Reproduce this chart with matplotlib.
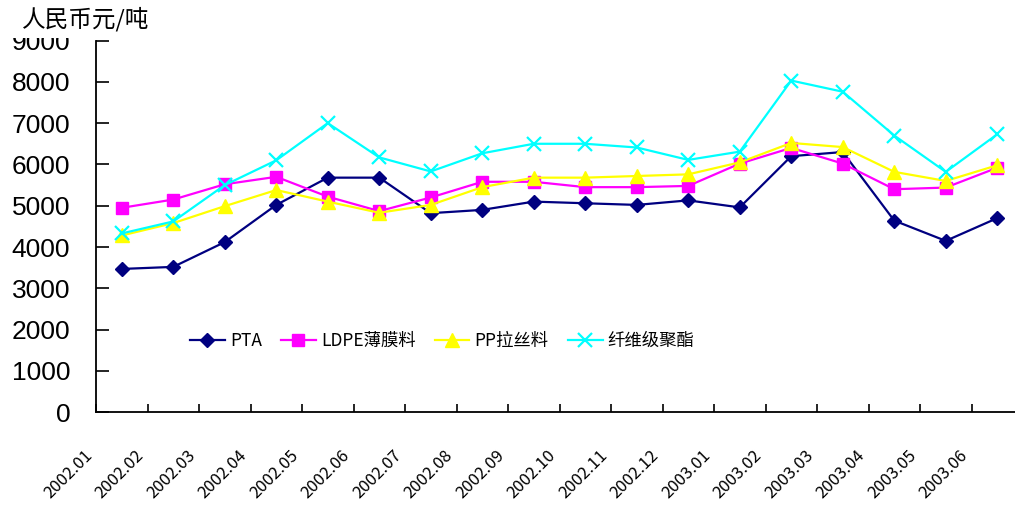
import matplotlib
matplotlib.use("Agg")
import matplotlib.pyplot as plt
from matplotlib import font_manager as fm
from matplotlib.transforms import blended_transform_factory
from matplotlib.patches import Rectangle

# ---------------- data ----------------
months = ["2002.01", "2002.02", "2002.03", "2002.04", "2002.05", "2002.06",
          "2002.07", "2002.08", "2002.09", "2002.10", "2002.11", "2002.12",
          "2003.01", "2003.02", "2003.03", "2003.04", "2003.05", "2003.06"]
pta = [3470, 3520, 4120, 5020, 5680, 5680, 4820, 4900, 5100, 5060, 5020, 5130,
       4960, 6200, 6300, 4640, 4150, 4700]
ldpe = [4950, 5150, 5520, 5700, 5220, 4870, 5200, 5580, 5580, 5450, 5450, 5480,
        6020, 6400, 6020, 5400, 5440, 5920]
pp = [4280, 4580, 4990, 5380, 5100, 4830, 5020, 5450, 5680, 5680, 5720, 5760,
      6050, 6520, 6420, 5820, 5600, 5980]
polyester = [4330, 4620, 5500, 6100, 7000, 6170, 5830, 6270, 6500, 6500, 6410, 6110,
             6310, 8030, 7760, 6700, 5820, 6730]
series_names = ["PTA", "LDPE薄膜料", "PP拉丝料", "纤维级聚酯"]
y_ticks = [0, 1000, 2000, 3000, 4000, 5000, 6000, 7000, 8000, 9000]
y_unit = "人民币元/吨"

# ---------------- fonts ----------------
cjk_fam = ["Noto Sans CJK SC", "DejaVu Sans"]
plt.rcParams["font.family"] = ["Liberation Sans", "Noto Sans CJK SC", "DejaVu Sans"]

W, H = 1015, 505
fig = plt.figure(figsize=(W / 100, H / 100), dpi=100)
x0, x1 = 96, 1023
y_bot, y_top = 412.3, 40.5
ax = fig.add_axes([x0 / W, (H - y_bot) / H, (x1 - x0) / W, (y_bot - y_top) / H])

n = len(months)
xs = [i + 0.5 for i in range(n)]
ax.plot(xs, pta, color="#000080", lw=1.6, marker="D", ms=6.8,
        mfc="#000080", mec="#000080", label=series_names[0])
ax.plot(xs, ldpe, color="#FF00FF", lw=1.6, marker="s", ms=9.2,
        mfc="#FF00FF", mec="#FF00FF", label=series_names[1])
ax.plot(xs, pp, color="#FFFF00", lw=1.6, marker="^", ms=10,
        mfc="#FFFF00", mec="#FFFF00", label=series_names[2])
ax.plot(xs, polyester, color="#00FFFF", lw=1.6, marker="x", ms=10.5, mew=1.6,
        label=series_names[3])

ax.set_xlim(0, n)
ax.set_ylim(0, 9000)
ax.set_yticks(y_ticks)
ax.set_yticklabels([str(v) for v in y_ticks], fontsize=19)
ax.set_xticks(range(n + 1))
ax.set_xticklabels([])
ax.tick_params(axis="y", direction="in", length=9, width=1.2, pad=18.5)
ax.tick_params(axis="x", direction="in", length=6, width=1.2)
for s in ("top", "right"):
    ax.spines[s].set_visible(False)
for s in ("left", "bottom"):
    ax.spines[s].set_linewidth(1.3)
    ax.spines[s].set_color("black")

trans = blended_transform_factory(ax.transData, ax.transAxes)
for i, lab in enumerate(months):
    ax.text(i, -0.093, lab, transform=trans, rotation=45, ha="right", va="top",
            fontsize=12, family=cjk_fam)

leg = ax.legend(loc="center left", bbox_to_anchor=((183 - x0) / (x1 - x0), (y_bot - 341) / (y_bot - y_top)),
                ncol=4, frameon=False, numpoints=1, handlelength=2.0,
                handletextpad=0.3, columnspacing=1.1, borderaxespad=0,
                prop=fm.FontProperties(family=cjk_fam, size=12.5))

# hide top part of clipped 9000 label like the reference
fig.patches.append(Rectangle((0, (H - 38) / H), x0 / W - 0.002, 38 / H,
                             transform=fig.transFigure, facecolor="white",
                             edgecolor="none", zorder=2))
fig.text(22 / W, 1 - 19 / H, y_unit, fontsize=17, family=cjk_fam,
         ha="left", va="center", zorder=3)

fig.savefig("out.png", dpi=100)
